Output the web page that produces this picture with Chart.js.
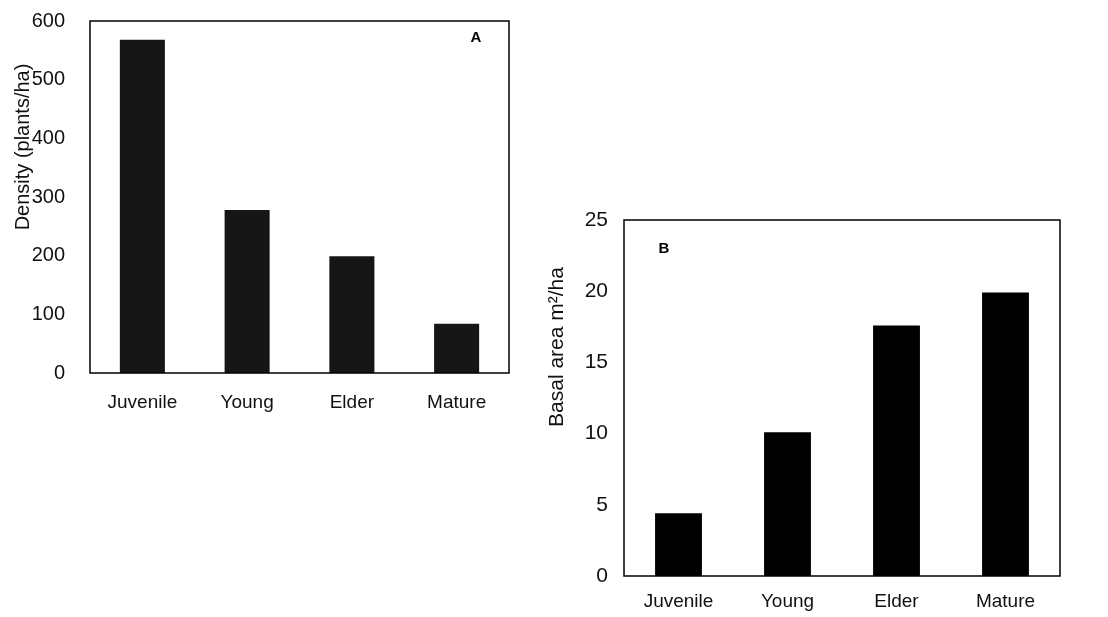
<!DOCTYPE html>
<html>
<head>
<meta charset="utf-8">
<script src="https://cdn.jsdelivr.net/npm/chart.js@4"></script>
<style>
  body { margin: 0; background: #fff; width: 1108px; height: 617px; position: relative; overflow: hidden; }
  #density-wrap { position: absolute; left: 0; top: 0; width: 530px; height: 420px; }
  #basal-wrap { position: absolute; left: 530px; top: 200px; width: 578px; height: 417px; }
</style>
</head>
<body>
<div id="density-wrap"><canvas id="density-chart" width="530" height="420"></canvas></div>
<div id="basal-wrap"><canvas id="basal-chart" width="578" height="417"></canvas></div>
<script>
const categories = ['Juvenile', 'Young', 'Elder', 'Mature'];
const densityValues = [568, 278, 199, 84];
const basalValues = [4.4, 10.1, 17.6, 19.9];
const densityTicks = [0, 100, 200, 300, 400, 500, 600];
const basalTicks = [0, 5, 10, 15, 20, 25];

const fontFamily = '"Liberation Sans", Arial, sans-serif';

// box round the plot, panel letter and the y title
const framePlugin = {
    id: 'frame',
    afterDraw(chart, args, opts) {
        const ctx = chart.ctx;
        const a = chart.chartArea;
        ctx.save();
        ctx.strokeStyle = '#000';
        ctx.lineWidth = 1.5;
        ctx.strokeRect(a.left, a.top, a.right - a.left, a.bottom - a.top);

        ctx.fillStyle = '#000';
        ctx.font = 'bold 15px ' + fontFamily;
        ctx.textAlign = 'center';
        ctx.textBaseline = 'middle';
        const lx = opts.letterRight ? a.right - opts.letterDx : a.left + opts.letterDx;
        ctx.fillText(opts.letter, lx, a.top + opts.letterDy);

        ctx.translate(opts.titleX, opts.titleY);
        ctx.rotate(-Math.PI / 2);
        ctx.font = opts.titleSize + 'px ' + fontFamily;
        ctx.fillStyle = '#111';
        ctx.fillText(opts.title, 0, 0);
        ctx.restore();
    }
};

function makeChart(el, values, ticks, o) {
    return new Chart(el, {
        type: 'bar',
        data: {
            labels: categories,
            datasets: [{
                data: values,
                backgroundColor: o.barColor,
                borderWidth: 0,
                barPercentage: 0.43,
                categoryPercentage: 1
            }]
        },
        options: {
            responsive: false,
            animation: false,
            layout: { padding: { top: o.padTop, right: o.padRight, left: 0, bottom: 0 } },
            plugins: {
                legend: { display: false },
                tooltip: { enabled: false },
                frame: o.frame
            },
            scales: {
                x: {
                    grid: { display: false, drawTicks: false },
                    border: { display: false },
                    ticks: { color: '#111', font: { family: fontFamily, size: 19 }, padding: o.xPad },
                    afterFit(scale) { scale.height = o.xHeight; }
                },
                y: {
                    min: 0,
                    max: ticks[ticks.length - 1],
                    afterBuildTicks(scale) { scale.ticks = ticks.map(v => ({ value: v })); },
                    grid: { display: false, drawTicks: false },
                    border: { display: false },
                    ticks: { color: '#111', font: { family: fontFamily, size: o.yFont }, padding: o.yPad },
                    afterFit(scale) {
                        scale.width = o.yWidth;
                        scale.paddingTop = 0;
                        scale.paddingBottom = 0;
                    }
                }
            }
        },
        plugins: [framePlugin]
    });
}

const densityChart = makeChart(document.getElementById('density-chart'), densityValues, densityTicks, {
    barColor: '#161616',
    padTop: 21,
    padRight: 21,
    xHeight: 47,
    xPad: 18,
    yWidth: 90,
    yPad: 25,
    yFont: 20,
    frame: { letter: 'A', letterRight: true, letterDx: 33, letterDy: 17, title: 'Density (plants/ha)', titleX: 23, titleY: 147, titleSize: 20 }
});

const basalChart = makeChart(document.getElementById('basal-chart'), basalValues, basalTicks, {
    barColor: '#000',
    padTop: 20,
    padRight: 48,
    xHeight: 41,
    xPad: 14,
    yWidth: 94,
    yPad: 16,
    yFont: 21,
    frame: { letter: 'B', letterRight: false, letterDx: 40, letterDy: 29, title: 'Basal area m\u00b2/ha', titleX: 27, titleY: 147, titleSize: 21 }
});
</script>
</body>
</html>
